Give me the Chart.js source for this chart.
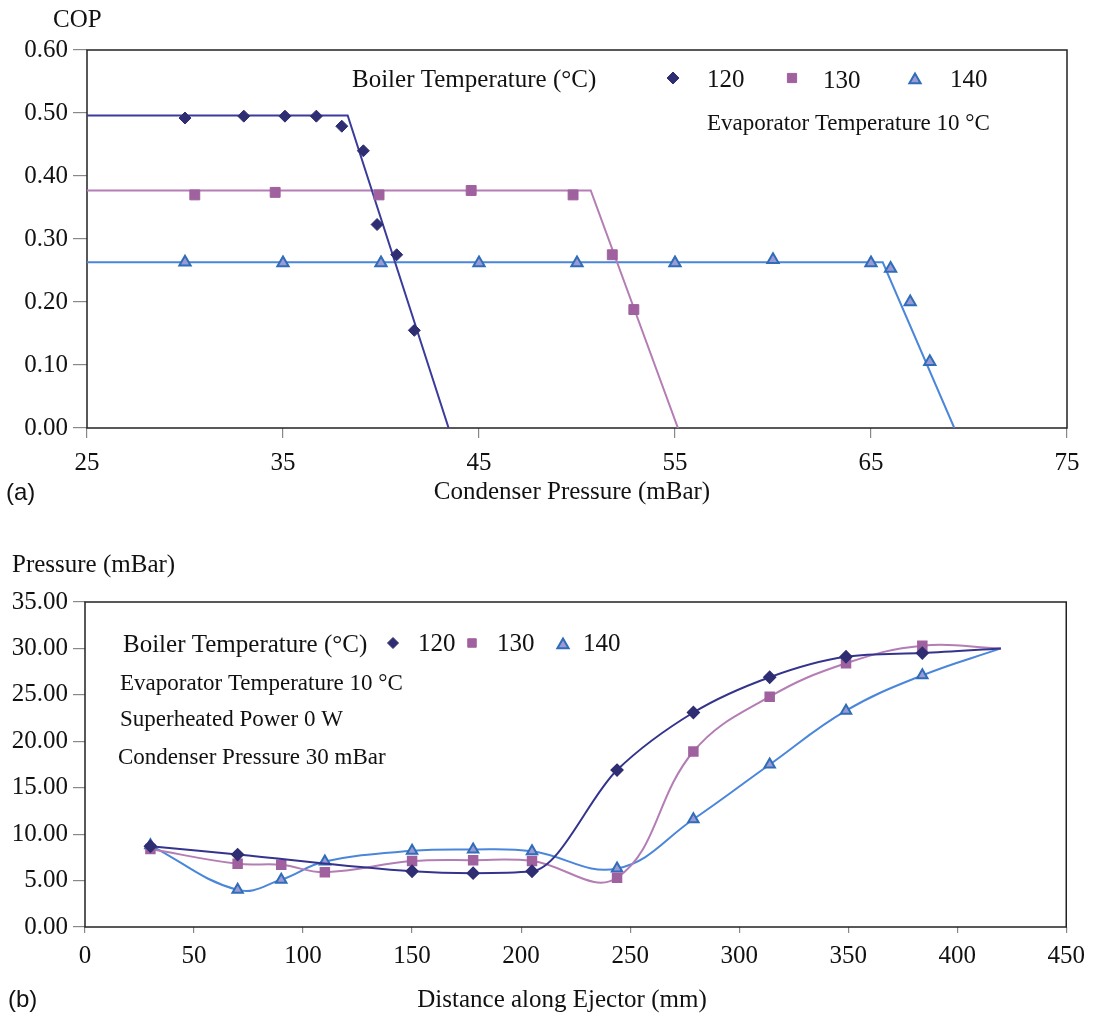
<!DOCTYPE html>
<html>
<head>
<meta charset="utf-8">
<script src="https://cdn.jsdelivr.net/npm/chart.js@4.4.1/dist/chart.umd.min.js"></script>
<style>
  html, body { margin: 0; padding: 0; background: #fff; }
  canvas { display: block; }
</style>
</head>
<body>
<canvas id="copChart" width="1093" height="515"></canvas>
<canvas id="pressChart" width="1093" height="504"></canvas>
<script>
// (a) COP vs condenser pressure, boiler temperature 120 / 130 / 140 C
const boilerTemps = ['120', '130', '140'];

const cond120 = [30, 33, 35.1, 36.7, 38.0, 39.1, 39.8, 40.8, 41.7];
const cop120  = [0.492, 0.495, 0.495, 0.495, 0.479, 0.440, 0.323, 0.275, 0.155];
const cond130 = [30.5, 34.6, 39.9, 44.6, 49.8, 51.8, 52.9];
const cop130  = [0.370, 0.374, 0.370, 0.377, 0.370, 0.275, 0.188];
const cond140 = [30, 35, 40, 45, 50, 55, 60, 65, 66, 67, 68];
const cop140  = [0.263, 0.262, 0.262, 0.262, 0.262, 0.262, 0.267, 0.262, 0.253, 0.200, 0.105];

// fitted lines (critical point then linear drop)
const fit120X = [25, 38.3, 43.45];
const fit120Y = [0.496, 0.496, 0];
const fit130X = [25, 50.7, 55.15];
const fit130Y = [0.377, 0.377, 0];
const fit140X = [25, 65.6, 69.25];
const fit140Y = [0.263, 0.263, 0];

const copTicks = [0, 0.1, 0.2, 0.3, 0.4, 0.5, 0.6];
const condTicks = [25, 35, 45, 55, 65, 75];

// (b) static pressure along the ejector
const dist120 = [30, 70, 150, 178, 205, 244, 279, 314, 349, 384, 420];
const pres120 = [8.7, 7.8, 6.0, 5.8, 6.0, 16.9, 23.1, 26.9, 29.1, 29.5, 30.0];
const dist130 = [30, 70, 90, 110, 150, 178, 205, 244, 279, 314, 349, 384, 420];
const pres130 = [8.4, 6.8, 6.7, 5.9, 7.1, 7.2, 7.1, 5.3, 18.9, 24.8, 28.4, 30.3, 30.0];
const dist140 = [30, 70, 90, 110, 150, 178, 205, 244, 279, 314, 349, 384, 420];
const pres140 = [8.8, 4.0, 5.1, 7.05, 8.2, 8.35, 8.15, 6.3, 11.6, 17.5, 23.3, 27.1, 30.0];

const pressTicks = [0, 5, 10, 15, 20, 25, 30, 35];
const distTicks = [0, 50, 100, 150, 200, 250, 300, 350, 400, 450];

const serif = "'Liberation Serif', 'Times New Roman', serif";
const sans = "'Liberation Sans', Arial, sans-serif";

const navy = '#2F2E72', navyLine = '#3A3C9C';
const mauve = '#A0619F', mauveLine = '#B47DB4';
const blueLine = '#4A86DA', blueEdge = '#2F6DB8', lilac = '#9C9AD6';

function pts(xs, ys) {
    return xs.map((x, i) => ({x: x, y: ys[i]}));
}

function marker(ctx, style, x, y, r, fill, stroke, bw) {
    ctx.save();
    ctx.fillStyle = fill;
    ctx.strokeStyle = stroke;
    ctx.lineWidth = bw;
    Chart.helpers.drawPoint(ctx, {pointStyle: style, radius: r, rotation: 0, borderWidth: bw}, x, y);
    ctx.restore();
}

function text(ctx, str, x, y, size, align, family) {
    ctx.save();
    ctx.font = size + 'px ' + (family || serif);
    ctx.fillStyle = '#111';
    ctx.textAlign = align || 'left';
    ctx.textBaseline = 'middle';
    ctx.fillText(str, x, y);
    ctx.restore();
}

const framePlugin = {
    id: 'frame',
    beforeDatasetsDraw(chart) {
        const a = chart.chartArea, ctx = chart.ctx;
        ctx.save();
        ctx.strokeStyle = '#222';
        ctx.lineWidth = 1.5;
        ctx.strokeRect(a.left, a.top, a.right - a.left, a.bottom - a.top);
        ctx.restore();
    }
};

function axisOpts(min, max, ticks, fmt, tickLen, pad, size) {
    return {
        type: 'linear',
        min: min,
        max: max,
        afterBuildTicks: s => { s.ticks = ticks.map(v => ({value: v})); },
        afterFit: s => { Object.assign(s, size); },
        ticks: {
            callback: fmt,
            color: '#111',
            padding: pad,
            maxRotation: 0,
            autoSkip: false,
            font: {family: serif, size: 25}
        },
        grid: {drawOnChartArea: false, drawTicks: true, tickLength: tickLen, color: '#888', lineWidth: 1.2},
        border: {display: false}
    };
}

// ---------- chart (a)
new Chart(document.getElementById('copChart'), {
    type: 'scatter',
    data: {
        datasets: [
            {label: boilerTemps[0], data: pts(cond120, cop120), pointStyle: 'rectRot', pointRadius: 6,
             backgroundColor: navy, borderColor: navy, borderWidth: 1},
            {label: boilerTemps[1], data: pts(cond130, cop130), pointStyle: 'rect', pointRadius: 7,
             backgroundColor: mauve, borderColor: mauve, borderWidth: 1},
            {label: boilerTemps[2], data: pts(cond140, cop140), pointStyle: 'triangle', pointRadius: 6.5,
             backgroundColor: lilac, borderColor: blueEdge, borderWidth: 2},
            {data: pts(fit120X, fit120Y), showLine: true, pointRadius: 0, borderColor: navyLine, borderWidth: 2},
            {data: pts(fit130X, fit130Y), showLine: true, pointRadius: 0, borderColor: mauveLine, borderWidth: 2},
            {data: pts(fit140X, fit140Y), showLine: true, pointRadius: 0, borderColor: blueLine, borderWidth: 2}
        ]
    },
    options: {
        responsive: false,
        animation: false,
        events: [],
        devicePixelRatio: 1,
        layout: {padding: {left: 0, top: 50, right: 26, bottom: 0}},
        plugins: {legend: {display: false}, tooltip: {enabled: false}},
        scales: {
            x: axisOpts(25, 75, condTicks, v => v, 10, 10, {height: 87}),
            y: axisOpts(0, 0.6, copTicks, v => v.toFixed(2), 14, 5, {width: 87})
        }
    },
    plugins: [framePlugin, {
        id: 'labelsA',
        afterDraw(chart) {
            const ctx = chart.ctx;
            text(ctx, 'COP', 53, 20, 25);
            text(ctx, 'Condenser Pressure (mBar)', 572, 492, 25, 'center');
            text(ctx, '(a)', 6, 493, 24, 'left', sans);
            text(ctx, 'Boiler Temperature (°C)', 352, 80, 25);
            marker(ctx, 'rectRot', 673, 78, 6, navy, navy, 1);
            text(ctx, boilerTemps[0], 707, 80, 25);
            marker(ctx, 'rect', 792, 78, 6.5, mauve, mauve, 1);
            text(ctx, boilerTemps[1], 823, 81, 25);
            marker(ctx, 'triangle', 915, 80, 6.5, lilac, blueEdge, 2);
            text(ctx, boilerTemps[2], 950, 80, 25);
            text(ctx, 'Evaporator Temperature 10 °C', 707, 124, 23);
        }
    }]
});

// ---------- chart (b)
function lastHidden(r) {
    return c => (c.dataIndex === c.dataset.data.length - 1 ? 0 : r);
}

new Chart(document.getElementById('pressChart'), {
    type: 'scatter',
    data: {
        datasets: [
            {label: boilerTemps[0], data: pts(dist120, pres120), showLine: true, cubicInterpolationMode: 'monotone',
             pointStyle: 'rectRot', pointRadius: lastHidden(5.5), backgroundColor: navy, borderColor: '#34348E',
             pointBorderColor: navy, borderWidth: 2},
            {label: boilerTemps[1], data: pts(dist130, pres130), showLine: true, tension: 0.4,
             pointStyle: 'rect', pointRadius: lastHidden(6), backgroundColor: mauve, borderColor: mauveLine,
             pointBorderColor: mauve, borderWidth: 2},
            {label: boilerTemps[2], data: pts(dist140, pres140), showLine: true, tension: 0.4,
             pointStyle: 'triangle', pointRadius: lastHidden(6), backgroundColor: lilac, borderColor: blueLine,
             pointBorderColor: blueEdge, pointBorderWidth: 2, borderWidth: 2}
        ]
    },
    options: {
        responsive: false,
        animation: false,
        events: [],
        devicePixelRatio: 1,
        layout: {padding: {left: 0, top: 87, right: 25, bottom: 0}},
        plugins: {legend: {display: false}, tooltip: {enabled: false}},
        scales: {
            x: axisOpts(0, 450, distTicks, v => v, 6, 8, {height: 92}),
            y: axisOpts(0, 35, pressTicks, v => v.toFixed(2), 12, 5, {width: 85})
        }
    },
    plugins: [framePlugin, {
        id: 'labelsB',
        afterDraw(chart) {
            const ctx = chart.ctx;
            text(ctx, 'Pressure (mBar)', 12, 50, 25);
            text(ctx, 'Distance along Ejector (mm)', 562, 485, 25, 'center');
            text(ctx, '(b)', 8, 485, 24, 'left', sans);
            text(ctx, 'Boiler Temperature (°C)', 123, 130, 25);
            marker(ctx, 'rectRot', 393, 128, 5.5, navy, navy, 1);
            text(ctx, boilerTemps[0], 418, 129, 25);
            marker(ctx, 'rect', 472, 128, 6, mauve, mauve, 1);
            text(ctx, boilerTemps[1], 497, 129, 25);
            marker(ctx, 'triangle', 563, 130, 6.5, lilac, blueEdge, 2);
            text(ctx, boilerTemps[2], 583, 129, 25);
            text(ctx, 'Evaporator Temperature 10 °C', 120, 169, 23);
            text(ctx, 'Superheated Power 0 W', 120, 205, 23);
            text(ctx, 'Condenser Pressure 30 mBar', 118, 243, 23);
        }
    }]
});
</script>
</body>
</html>
